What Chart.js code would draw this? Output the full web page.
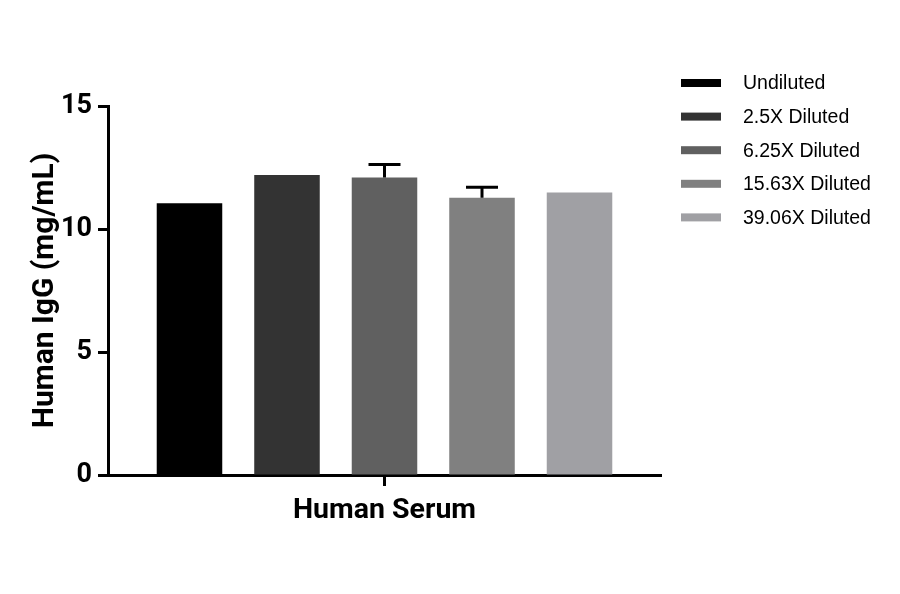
<!DOCTYPE html>
<html>
<head>
<meta charset="utf-8">
<script src="https://cdn.jsdelivr.net/npm/chart.js@4.4.1/dist/chart.umd.min.js"></script>
<style>
  html, body { margin: 0; padding: 0; background: #ffffff; }
  #wrap { width: 900px; height: 594px; }
</style>
</head>
<body>
<div id="wrap"><canvas id="c" width="900" height="594"></canvas></div>
<script>
// ---- data ----
const categories = ['Human Serum'];
const seriesLabels = ['Undiluted', '2.5X Diluted', '6.25X Diluted', '15.63X Diluted', '39.06X Diluted'];
const seriesValues = [11.05, 12.20, 12.09, 11.27, 11.48];
const seriesErrors = [0, 0, 0.53, 0.43, 0];
const yTicks = [0, 5, 10, 15];
const yAxisTitle = 'Human IgG (mg/mL)';

// ---- styles ----
const seriesColors = ['#000000', '#333333', '#606060', '#808080', '#a0a0a4'];

const datasets = seriesLabels.map((lab, i) => ({
  label: lab,
  data: [seriesValues[i]],
  errors: [seriesErrors[i]],
  backgroundColor: seriesColors[i],
  borderWidth: 0,
  categoryPercentage: 0.8816,
  barPercentage: 0.672
}));

const errorBarPlugin = {
  id: 'errorBars',
  afterDatasetsDraw(chart) {
    const ctx = chart.ctx;
    const ys = chart.scales.y;
    ctx.save();
    ctx.strokeStyle = '#000000';
    ctx.lineWidth = 3;
    chart.data.datasets.forEach((ds, di) => {
      const meta = chart.getDatasetMeta(di);
      meta.data.forEach((bar, j) => {
        const err = ds.errors[j];
        if (!err) return;
        const v = ds.data[j];
        const yTop = ys.getPixelForValue(v + err);
        const yBar = ys.getPixelForValue(v);
        ctx.beginPath();
        ctx.moveTo(bar.x, yBar);
        ctx.lineTo(bar.x, yTop);
        ctx.moveTo(bar.x - 16, yTop);
        ctx.lineTo(bar.x + 16, yTop);
        ctx.stroke();
      });
    });
    ctx.restore();
  }
};

const legendPlugin = {
  id: 'sideLegend',
  afterDraw(chart) {
    const ctx = chart.ctx;
    ctx.save();
    ctx.font = '19.5px "Liberation Sans", Arial, sans-serif';
    ctx.textBaseline = 'middle';
    ctx.textAlign = 'left';
    chart.data.datasets.forEach((ds, i) => {
      const cy = 83 + i * 33.6;
      ctx.fillStyle = ds.backgroundColor;
      ctx.fillRect(681, cy - 4, 40, 8);
      ctx.fillStyle = '#000000';
      ctx.fillText(ds.label, 743, cy + 1);
    });
    ctx.restore();
  }
};

new Chart(document.getElementById('c'), {
  type: 'bar',
  data: { labels: categories, datasets: datasets },
  options: {
    responsive: false,
    animation: false,
    devicePixelRatio: 1,
    layout: { padding: { left: 0, top: 106, right: 239, bottom: 0 } },
    plugins: {
      legend: { display: false },
      tooltip: { enabled: false },
      title: { display: false }
    },
    scales: {
      x: {
        grid: {
          display: true,
          drawOnChartArea: false,
          offset: false,
          color: '#000000',
          tickLength: 11,
          tickWidth: 3
        },
        border: { display: true, color: '#000000', width: 3 },
        ticks: {
          color: '#000000',
          font: { family: 'Roboto', weight: 'bold', size: 28.5 },
          padding: 8
        },
        afterFit(scale) { scale.height = 119; }
      },
      y: {
        min: 0,
        max: 15,
        afterBuildTicks(scale) { scale.ticks = yTicks.map(v => ({ value: v })); },
        grid: {
          display: true,
          drawOnChartArea: false,
          color: '#000000',
          tickLength: 10,
          tickWidth: 3
        },
        border: { display: true, color: '#000000', width: 3 },
        ticks: {
          color: '#000000',
          font: { family: 'Roboto', weight: 'bold', size: 27 },
          padding: 6
        },
        title: {
          display: true,
          text: yAxisTitle,
          color: '#000000',
          font: { family: 'Roboto', weight: 'bold', size: 30 },
          padding: { top: 27, bottom: 0 }
        },
        afterFit(scale) { scale.width = 108; }
      }
    }
  },
  plugins: [errorBarPlugin, legendPlugin]
});
</script>
</body>
</html>
